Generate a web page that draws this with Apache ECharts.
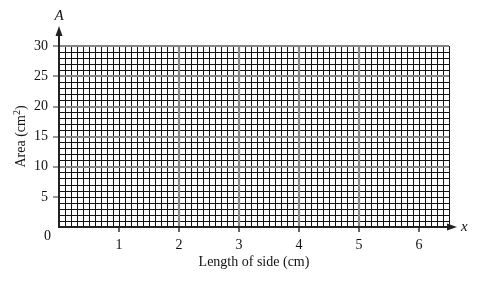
<!DOCTYPE html>
<html>
<head>
<meta charset="utf-8">
<script src="https://cdn.jsdelivr.net/npm/echarts@6/dist/echarts.min.js"></script>
<style>html,body{margin:0;padding:0;background:#fff}#c{width:483px;height:281px}</style>
</head>
<body>
<div id="c"></div>
<script>
// ---- data ----
const xTickValues = [1, 2, 3, 4, 5, 6];
const yTickValues = [5, 10, 15, 20, 25, 30];
const xRange = [0, 6.5];
const yRange = [0, 30];
const xTitle = 'Length of side (cm)';
const yTitle = '{n|Area (cm}{sup|2}{n|)}';
const xArrowName = 'x';
const yArrowName = 'A';
const originLabel = '0';

const FONT = '"Liberation Serif", "Times New Roman", serif';
const chart = echarts.init(document.getElementById('c'));

const hidden = {show: false};
const paperGrid = {left: 59, right: 34, top: 46, bottom: 54};
const arrowGrid = {left: 59, right: 31, top: 31, bottom: 54};
const pxX = (483 - paperGrid.left - paperGrid.right) / (xRange[1] - xRange[0]);
const pxY = (281 - paperGrid.top - paperGrid.bottom) / (yRange[1] - yRange[0]);
const arrowXMax = (483 - arrowGrid.left - arrowGrid.right) / pxX;
const arrowYMax = (281 - arrowGrid.top - arrowGrid.bottom) / pxY;

const MINOR = {color: '#111', width: 1};
const MAJOR = {color: '#858585', width: 2.2};

const option = {
  animation: false,
  textStyle: {fontFamily: FONT},
  grid: [
    Object.assign({containLabel: false, outerBoundsMode: 'none'}, paperGrid),
    Object.assign({containLabel: false, outerBoundsMode: 'none'}, arrowGrid)
  ],
  xAxis: [
    { // minor x lines
      type: 'value', gridIndex: 0, position: 'bottom', min: xRange[0], max: xRange[1], interval: 0.1, z: 1,
      axisLine: hidden, axisTick: hidden, axisLabel: hidden,
      splitLine: {show: true, lineStyle: MINOR}
    },
    { // major x lines + labels
      type: 'value', gridIndex: 0, position: 'bottom', offset: 0, min: xRange[0], max: xRange[1], interval: 1, z: 2,
      axisLine: hidden,
      axisTick: {show: true, length: 5, customValues: xTickValues, lineStyle: {color: '#333', width: 1.5}},
      axisLabel: {show: true, customValues: xTickValues, margin: 11, color: '#111', fontSize: 14, fontFamily: FONT},
      splitLine: {show: true, showMinLine: false, showMaxLine: false, lineStyle: MAJOR},
      name: xTitle, nameLocation: 'middle', nameGap: 28, nameMoveOverlap: false,
      nameTextStyle: {color: '#111', fontSize: 14, fontFamily: FONT}
    },
    { // arrow x axis
      type: 'value', gridIndex: 1, position: 'bottom', min: 0, max: arrowXMax, z: 3,
      axisLine: {show: true, symbol: ['none', 'triangle'], symbolSize: [7, 10], lineStyle: {color: '#222', width: 2}},
      axisTick: hidden, axisLabel: hidden, splitLine: hidden,
      name: xArrowName, nameLocation: 'end', nameGap: 9,
      nameTextStyle: {color: '#111', fontSize: 15, fontStyle: 'italic', fontFamily: FONT, verticalAlign: 'middle', padding: [0, 0, 2, 0]}
    }
  ],
  yAxis: [
    { // minor y lines
      type: 'value', gridIndex: 0, position: 'left', min: yRange[0], max: yRange[1], interval: 1, z: 1,
      axisLine: hidden, axisTick: hidden, axisLabel: hidden,
      splitLine: {show: true, lineStyle: MINOR}
    },
    { // major y lines + labels
      type: 'value', gridIndex: 0, position: 'left', offset: 0, min: yRange[0], max: yRange[1], interval: 5, z: 2,
      axisLine: hidden,
      axisTick: {show: true, length: 6, customValues: yTickValues, lineStyle: {color: '#777', width: 1.5}},
      axisLabel: {show: true, customValues: yTickValues, margin: 11, color: '#111', fontSize: 14, fontFamily: FONT},
      splitLine: {show: true, showMinLine: false, lineStyle: MAJOR},
      name: yTitle, nameLocation: 'middle', nameGap: 31, nameRotate: 90, nameMoveOverlap: false,
      nameTextStyle: {color: '#111', fontSize: 14, fontFamily: FONT,
        rich: {
          n: {fontSize: 14, fontFamily: FONT, color: '#111', lineHeight: 16, verticalAlign: 'bottom'},
          sup: {fontSize: 10, fontFamily: FONT, color: '#111', lineHeight: 10, verticalAlign: 'top', padding: [0, 0, 0, 0]}
        }}
    },
    { // arrow y axis
      type: 'value', gridIndex: 1, position: 'left', min: 0, max: arrowYMax, z: 3,
      axisLine: {show: true, symbol: ['none', 'triangle'], symbolSize: [7, 10], lineStyle: {color: '#222', width: 2}},
      axisTick: hidden, axisLabel: hidden, splitLine: hidden,
      name: yArrowName, nameLocation: 'end', nameGap: 7,
      nameTextStyle: {color: '#111', fontSize: 15, fontStyle: 'italic', fontFamily: FONT, align: 'center'}
    }
  ],
  graphic: [{
    type: 'text', left: 44, top: 229, z: 10,
    style: {text: originLabel, fontSize: 14, fontFamily: FONT, fill: '#111'}
  }],
  series: []
};
chart.setOption(option);
</script>
</body>
</html>
